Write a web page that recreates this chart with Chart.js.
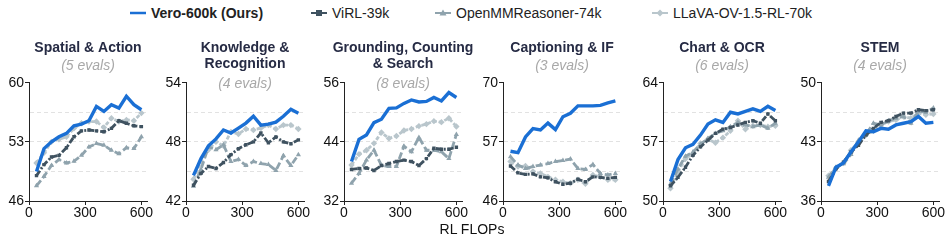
<!DOCTYPE html>
<html lang="en">
<head>
<meta charset="UTF-8">
<title>RL FLOPs scaling</title>
<script src="https://cdn.jsdelivr.net/npm/chart.js"></script>
<style>
  body { margin: 0; width: 952px; height: 241px; position: relative; overflow: hidden; background: #fff;
         font-family: "Liberation Sans", Arial, sans-serif; }
  canvas { position: absolute; top: 36px; }
  .leg { position: absolute; top: 4px; height: 17px; display: flex; align-items: center; font-size: 14px; color: #222; white-space: nowrap; }
  .leg svg { margin-right: 5px; }
  #xlabel { position: absolute; top: 221px; left: 472px; transform: translateX(-50%); font-size: 14px; line-height: 16px; color: #111; }
</style>
</head>
<body>

<div class="leg" style="left:130px"><svg width="16" height="10"><line x1="0" y1="5" x2="16" y2="5" stroke="#1a6fd4" stroke-width="2.5"/></svg><b>Vero-600k (Ours)</b></div>
<div class="leg" style="left:311px"><svg width="16" height="10"><line x1="0" y1="5" x2="16" y2="5" stroke="#3f5260" stroke-width="2"/><rect x="5" y="2" width="6" height="6" fill="#3f5260"/></svg>ViRL-39k</div>
<div class="leg" style="left:435px"><svg width="16" height="10"><line x1="0" y1="5" x2="16" y2="5" stroke="#8fa3ad" stroke-width="2"/><polygon points="8,1.5 11.5,7.5 4.5,7.5" fill="#8fa3ad"/></svg>OpenMMReasoner-74k</div>
<div class="leg" style="left:652px"><svg width="16" height="10"><line x1="0" y1="5" x2="16" y2="5" stroke="#b9c6cc" stroke-width="2"/><polygon points="8,1.5 11.5,5 8,8.5 4.5,5" fill="#b9c6cc"/></svg>LLaVA-OV-1.5-RL-70k</div>

<canvas id="c0" width="175" height="205"></canvas>
<canvas id="c1" width="175" height="205"></canvas>
<canvas id="c2" width="175" height="205"></canvas>
<canvas id="c3" width="175" height="205"></canvas>
<canvas id="c4" width="175" height="205"></canvas>
<canvas id="c5" width="175" height="205"></canvas>

<div id="xlabel">RL FLOPs</div>

<script>
// x positions (RL FLOPs)
const flops = [40, 80, 120, 160, 200, 240, 280, 320, 360, 400, 440, 480, 520, 560, 600];

const titles = [
  ['Spatial & Action'],
  ['Knowledge &', 'Recognition'],
  ['Grounding, Counting', '& Search'],
  ['Captioning & IF'],
  ['Chart & OCR'],
  ['STEM']
];
const subtitles = ['(5 evals)', '(4 evals)', '(8 evals)', '(3 evals)', '(6 evals)', '(4 evals)'];

const yMin = [46, 42, 32, 46, 50, 36];
const yMax = [60, 54, 56, 70, 64, 50];
const yTickLabels = [
  ['46', '53', '60'],
  ['42', '48', '54'],
  ['32', '44', '56'],
  ['46', '57', '70'],
  ['50', '57', '64'],
  ['36', '43', '50']
];
const xTicks = [0, 300, 600];

// one row per panel
const vero = [
  [49.5, 52.2, 53.0, 53.6, 54.0, 54.9, 55.1, 55.5, 57.2, 56.6, 57.4, 57.0, 58.4, 57.4, 56.8],
  [44.6, 46.3, 47.6, 48.3, 49.2, 48.9, 49.4, 49.9, 50.6, 49.7, 49.8, 50.0, 50.6, 51.3, 50.9],
  [40.0, 44.5, 45.4, 47.9, 48.6, 50.8, 50.9, 51.8, 52.5, 52.1, 52.2, 53.0, 52.3, 54.0, 53.0],
  [56.1, 55.8, 59.0, 60.7, 60.4, 61.8, 60.5, 63.1, 63.8, 65.3, 65.3, 65.3, 65.4, 65.9, 66.3],
  [52.3, 54.9, 56.3, 56.7, 57.8, 59.1, 59.6, 59.3, 60.5, 60.3, 60.6, 60.9, 60.6, 61.2, 60.7],
  [37.8, 40.0, 40.5, 41.8, 43.0, 44.3, 44.2, 44.6, 44.5, 45.0, 45.2, 45.4, 46.0, 45.2, 45.3]
];
const virl = [
  [49.0, 50.3, 51.2, 51.4, 52.3, 53.6, 54.3, 54.4, 54.3, 54.2, 54.6, 55.5, 55.2, 54.9, 54.8],
  [43.6, 44.8, 45.5, 45.3, 45.9, 46.7, 47.3, 47.7, 48.0, 48.9, 47.9, 48.5, 48.0, 47.8, 48.2],
  [38.4, 38.6, 38.7, 38.2, 39.2, 39.6, 40.0, 40.3, 40.0, 39.2, 40.6, 42.7, 42.5, 42.5, 42.9],
  [53.1, 51.7, 51.4, 51.5, 50.9, 50.7, 49.9, 49.4, 49.6, 50.4, 49.9, 50.9, 50.8, 50.6, 50.8],
  [51.8, 52.8, 54.0, 55.4, 56.4, 57.2, 58.0, 58.5, 58.7, 59.0, 59.3, 59.5, 59.2, 60.3, 59.5],
  [38.3, 39.8, 40.6, 41.8, 42.6, 43.8, 44.6, 45.3, 45.5, 46.0, 46.4, 46.4, 46.8, 46.7, 46.8]
];
const openmm = [
  [47.8, 48.9, 50.2, 50.9, 50.5, 50.7, 51.4, 52.4, 52.8, 52.6, 52.0, 51.6, 52.3, 52.2, 53.6],
  [43.5, 45.2, 47.5, 47.2, 47.7, 46.0, 46.2, 45.6, 46.0, 45.8, 45.7, 45.1, 46.6, 45.6, 46.7],
  [35.6, 37.6, 40.3, 42.3, 39.2, 39.0, 39.0, 43.1, 42.0, 44.9, 42.3, 42.3, 42.0, 40.6, 45.5],
  [55.0, 53.3, 52.6, 53.0, 53.3, 53.6, 54.0, 54.2, 54.5, 52.6, 52.4, 53.4, 51.6, 51.3, 51.6],
  [52.0, 53.8, 55.3, 55.8, 56.7, 57.4, 58.0, 58.3, 58.8, 59.3, 59.0, 58.8, 59.0, 58.6, 59.2],
  [38.8, 40.0, 40.4, 41.5, 43.2, 43.9, 45.2, 45.0, 45.5, 45.8, 46.0, 45.2, 46.6, 46.5, 47.0]
];
const llava = [
  [50.5, 51.7, 53.0, 53.3, 53.6, 54.6, 55.2, 55.4, 55.4, 54.7, 55.8, 55.4, 55.6, 55.5, 56.4],
  [44.2, 46.0, 47.2, 48.0, 47.6, 49.0, 48.8, 49.3, 49.2, 49.4, 49.7, 49.3, 49.7, 49.7, 49.3],
  [39.3, 41.5, 42.3, 43.7, 45.9, 44.7, 45.2, 46.3, 46.6, 47.2, 47.6, 48.2, 48.0, 48.8, 47.1],
  [54.0, 53.0, 53.1, 52.0, 51.6, 50.9, 50.3, 49.9, 49.6, 50.3, 49.5, 51.3, 50.9, 50.3, 50.3],
  [51.5, 53.5, 55.0, 55.6, 56.8, 57.3, 56.9, 57.5, 58.3, 59.5, 58.5, 58.9, 59.0, 58.8, 58.9],
  [39.0, 39.9, 40.5, 42.0, 43.0, 43.8, 44.3, 45.0, 45.4, 45.6, 46.0, 45.8, 46.4, 46.2, 46.3]
];

// where each panel's y axis sits on the page
const axisX = [28.7, 185.7, 344.3, 503.3, 663.3, 820.7];

const FONT = '"Liberation Sans", Arial, sans-serif';

const panelTitle = {
  id: 'panelTitle',
  afterDraw(chart, args, opts) {
    const ctx = chart.ctx;
    const cx = (chart.chartArea.left + chart.chartArea.right) / 2;
    ctx.save();
    ctx.textAlign = 'center';
    ctx.textBaseline = 'middle';
    ctx.fillStyle = '#262b44';
    ctx.font = 'bold 14px ' + FONT;
    opts.lines.forEach((t, i) => ctx.fillText(t, cx, 12.5 + i * 16));
    ctx.fillStyle = '#a8a8a8';
    ctx.font = 'italic 14px ' + FONT;
    ctx.fillText(opts.sub, cx, opts.lines.length > 1 ? 48.5 : 30.5);
    ctx.restore();
  }
};

function pts(arr) {
  return flops.map((x, i) => ({ x: x, y: arr[i] }));
}

for (let p = 0; p < 6; p++) {
  const cv = document.getElementById('c' + p);
  cv.style.left = (axisX[p] - 32) + 'px';
  const step = (yMax[p] - yMin[p]) / 4;

  new Chart(cv, {
    type: 'line',
    data: {
      datasets: [
        { label: 'Vero-600k (Ours)', data: pts(vero[p]), borderColor: '#1a6fd4', borderWidth: 3.4, pointRadius: 0 },
        { label: 'ViRL-39k', data: pts(virl[p]), borderColor: '#3f5260', backgroundColor: '#3f5260', borderWidth: 2.8,
          borderDash: [6, 2, 2, 2], pointStyle: 'rect', pointRadius: 2.4, pointBorderWidth: 0 },
        { label: 'OpenMMReasoner-74k', data: pts(openmm[p]), borderColor: '#8fa3ad', backgroundColor: '#8fa3ad', borderWidth: 2.8,
          borderDash: [7, 3], pointStyle: 'triangle', pointRadius: 3, pointBorderWidth: 0 },
        { label: 'LLaVA-OV-1.5-RL-70k', data: pts(llava[p]), borderColor: '#b9c6cc', backgroundColor: '#b9c6cc', borderWidth: 2.8,
          borderDash: [4, 2], pointStyle: 'rectRot', pointRadius: 3.2, pointBorderWidth: 0 }
      ]
    },
    options: {
      responsive: false,
      animation: false,
      layout: { padding: { top: 46.7, left: 0, right: 25, bottom: 18 } },
      plugins: {
        legend: { display: false },
        tooltip: { enabled: false },
        panelTitle: { lines: titles[p], sub: subtitles[p] }
      },
      scales: {
        x: {
          type: 'linear',
          min: 0,
          max: 630,
          afterBuildTicks: s => { s.ticks = xTicks.map(v => ({ value: v })); },
          afterFit: s => { s.height = 22; },
          ticks: { font: { size: 14, family: FONT }, color: '#111', padding: 0, maxRotation: 0 },
          grid: { drawOnChartArea: false, tickLength: 4, tickColor: '#222' },
          border: { color: '#222', width: 1 }
        },
        y: {
          min: yMin[p],
          max: yMax[p],
          afterBuildTicks: s => {
            s.ticks = [0, 1, 2, 3, 4].map(i => ({ value: yMin[p] + i * step }));
          },
          afterFit: s => { s.width = 32; },
          ticks: {
            font: { size: 14, family: FONT }, color: '#111', padding: 1,
            callback: (v, i) => (i % 2 === 0 ? yTickLabels[p][i / 2] : '')
          },
          grid: {
            tickLength: 4,
            color: c => (c.index === 0 || c.index === 4 ? 'rgba(0,0,0,0)' : '#e2e2e2'),
            tickColor: c => (c.index % 2 === 0 ? '#222' : 'rgba(0,0,0,0)')
          },
          border: { color: '#222', width: 1, dash: [4, 3] }
        }
      },
      elements: { line: { tension: 0, fill: false } }
    },
    plugins: [panelTitle]
  });
}
</script>
</body>
</html>
